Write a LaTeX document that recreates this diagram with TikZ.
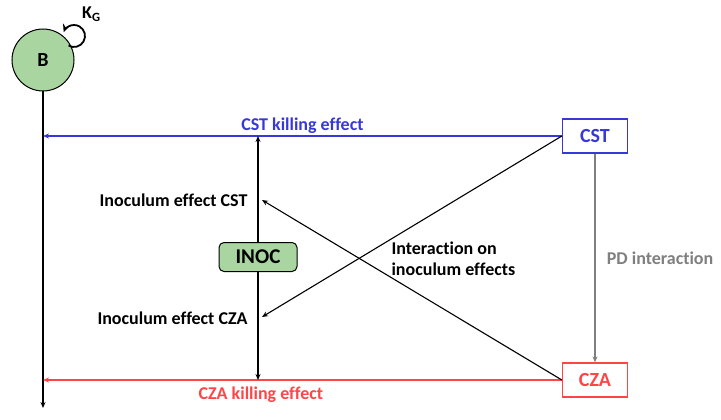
\documentclass[tikz,border=0pt]{standalone}
\usepackage{fontspec}
\setmainfont{Carlito}[Ligatures=CommonOff]
\usepackage{xcolor}
\usetikzlibrary{arrows.meta,positioning,calc}
\definecolor{BugGreen}{HTML}{A9D5A0}
\definecolor{CstBlue}{HTML}{3838D8}
\definecolor{CzaRed}{HTML}{FF4545}
\definecolor{PdGray}{HTML}{7F7F7F}

\tikzset{
  drug/.style={draw,line width=1.3pt,minimum width=65pt,minimum height=34pt,font=\bfseries\fontsize{20}{22}\selectfont},
  lbl/.style={font=\bfseries\fontsize{18}{21}\selectfont},
  link/.style={->,line width=1.1pt}
}

\begin{document}
\begin{tikzpicture}[x=1pt,y=-1pt,>={Stealth[length=6pt,width=5pt]}]
  \useasboundingbox (0,0) rectangle (721,420);
  \node[circle,draw,fill=BugGreen,line width=1pt,minimum size=62pt,font=\bfseries\fontsize{20}{22}\selectfont] (bug) at (43,60) {B};
  \draw[-{Stealth[length=8pt,width=7pt]},line width=1.8pt] ([shift={(74,36)}]120:11) arc (120:-160:11);
  \node[lbl,anchor=west,inner sep=0pt] (kg) at (82,14) {K\textsubscript{G}};
  \coordinate (bugend) at (43,408);
  \draw[link] (bug) -- (bugend);
  % drugs
  \node[drug,draw=CstBlue,text=CstBlue] (cst) at (595,136) {CST};
  \node[drug,draw=CzaRed,text=CzaRed] (cza) at (595,380) {CZA};
  \coordinate (hitcst) at (43,136);
  \coordinate (hitcza) at (43,380);
  \draw[link,CstBlue] (cst) -- node[lbl,above=-1pt] {CST killing effect} (hitcst);
  \draw[link,CzaRed] (cza) -- node[lbl,below=3pt,pos=0.58] {CZA killing effect} (hitcza);
  \draw[link,PdGray] (cst) -- node[lbl,right=8pt] {PD interaction} (cza);
  % inoculum
  \node[draw,fill=BugGreen,rounded corners=5pt,line width=1pt,minimum width=78pt,minimum height=29pt,font=\bfseries\fontsize{21}{23}\selectfont] (inoc) at (258,257) {INOC};
  \coordinate (inoctop) at (258,136);
  \coordinate (inocbot) at (258,380);
  \draw[link] (inoc) -- (inoctop);
  \draw[link] (inoc) -- (inocbot);
  \node[lbl,anchor=east] (iecst) at (251,200) {Inoculum effect CST};
  \node[lbl,anchor=east] (iecza) at (251,318) {Inoculum effect CZA};
  \coordinate (tipcst) at (262,200);
  \coordinate (tipcza) at (262,317);
  \draw[link] (cza.west) -- (tipcst);
  \draw[link] (cst.west) -- (tipcza);
  \node[lbl,align=left,anchor=west] (inter) at (388,259) {Interaction on\\inoculum effects};
\end{tikzpicture}
\end{document}
